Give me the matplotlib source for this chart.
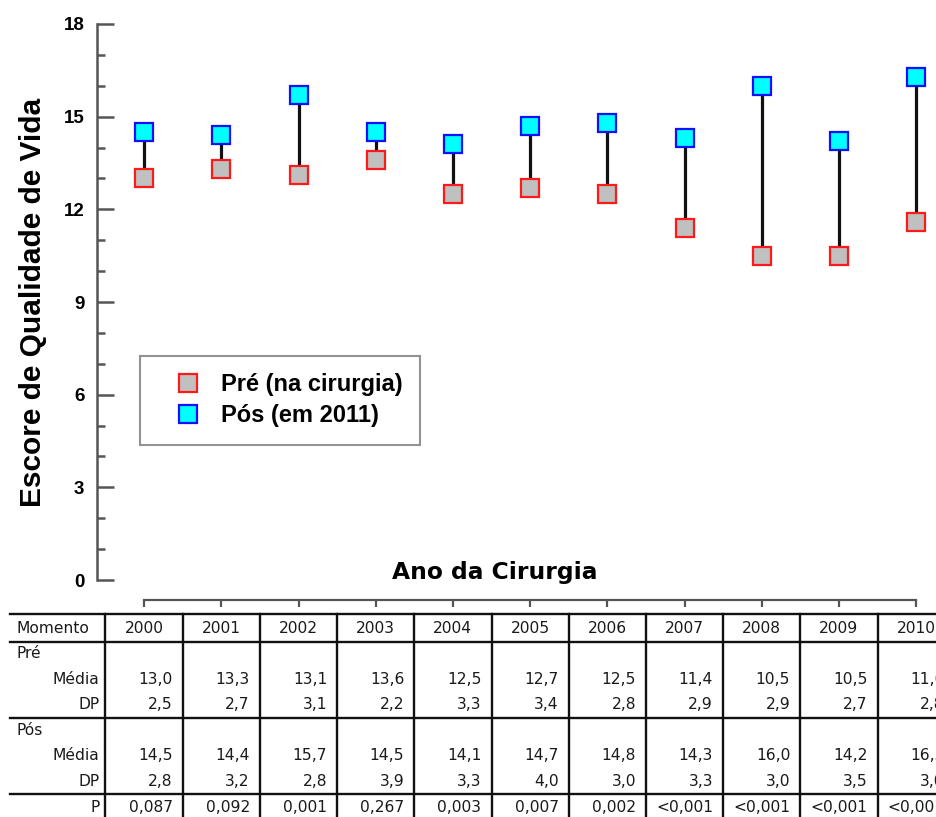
import numpy as np
import matplotlib
matplotlib.use('Agg')
import matplotlib.pyplot as plt

# Escore de qualidade de vida por ano da cirurgia
anos = [2000, 2001, 2002, 2003, 2004, 2005, 2006, 2007, 2008, 2009, 2010]
pre_media = [13.0, 13.3, 13.1, 13.6, 12.5, 12.7, 12.5, 11.4, 10.5, 10.5, 11.6]
pre_dp = [2.5, 2.7, 3.1, 2.2, 3.3, 3.4, 2.8, 2.9, 2.9, 2.7, 2.8]
pos_media = [14.5, 14.4, 15.7, 14.5, 14.1, 14.7, 14.8, 14.3, 16.0, 14.2, 16.3]
pos_dp = [2.8, 3.2, 2.8, 3.9, 3.3, 4.0, 3.0, 3.3, 3.0, 3.5, 3.0]
valor_p = ['0,087', '0,092', '0,001', '0,267', '0,003', '0,007', '0,002',
           '<0,001', '<0,001', '<0,001', '<0,001']

W, H = 937, 817
fig = plt.figure(figsize=(W / 100, H / 100), dpi=100)

def fx(px):
    return px / W

def fy(px):
    return 1 - px / H

# --- grafico principal ---
ax = fig.add_axes([fx(97), fy(600), 1 - fx(97), fy(24) - fy(600)])
ax.set_xlim(1999.39, 2010.27)
ax.set_ylim(-0.647, 18)

cinza = '#555555'
ax.vlines(anos, pre_media, pos_media, color='#111111', lw=2.3, zorder=2)
ax.plot(anos, pre_media, 's', ms=12.5, mfc='#c0c0c0', mec='#ff1a1a', mew=1.6,
        ls='none', zorder=3, label='Pré (na cirurgia)')
ax.plot(anos, pos_media, 's', ms=12.5, mfc='#00ffff', mec='#1010ff', mew=1.6,
        ls='none', zorder=3, label='Pós (em 2011)')

for s in ['top', 'right']:
    ax.spines[s].set_visible(False)
ax.spines['left'].set_bounds(0, 18)
ax.spines['left'].set_color(cinza)
ax.spines['left'].set_linewidth(1.8)
ax.spines['bottom'].set_bounds(2000, 2010)
ax.spines['bottom'].set_color(cinza)
ax.spines['bottom'].set_linewidth(1.6)

ax.set_yticks(np.arange(0, 19, 3))
ax.set_yticks(np.arange(0, 19, 1), minor=True)
ax.tick_params(axis='y', which='major', direction='in', length=12, width=1.8,
               color=cinza, pad=9, labelsize=13.5)
ax.tick_params(axis='y', which='minor', direction='in', length=6, width=1.8,
               color=cinza)
for lb in ax.get_yticklabels():
    lb.set_fontfamily('Liberation Sans')
    lb.set_fontweight('bold')

ax.set_xticks(anos)
ax.tick_params(axis='x', direction='out', length=5, width=1.6, color=cinza,
               labelbottom=False)

ax.set_ylabel('Escore de Qualidade de Vida', fontsize=21.5, fontweight='bold',
              family='Liberation Sans')
ax.yaxis.set_label_coords(-0.060, 0.517)

fig.text(fx(495), fy(572), 'Ano da Cirurgia', ha='center', va='center',
         fontsize=16.8, fontweight='bold', family='DejaVu Sans')

leg = ax.legend(loc='upper left', bbox_to_anchor=(0.0512, 0.4236),
                borderaxespad=0, fancybox=False, edgecolor='#777777',
                handlelength=2.55, handletextpad=0.15, borderpad=0.74,
                labelspacing=0.32,
                prop={'family': 'Liberation Sans', 'weight': 'bold', 'size': 17})
leg.get_frame().set_linewidth(1.5)

# --- tabela ---
tab = fig.add_axes([fx(97), 0, 1 - fx(97), fy(600)], sharex=ax)
tab.set_ylim(7.383, -1.094)
tab.axis('off')

cor_txt = '#1a1a1a'
fs = 11.2
x_rot = 1999.5 - 0.08
x_esq = 1998.35
tab.text(x_esq, 0, 'Momento', ha='left', va='center', fontsize=fs, color=cor_txt)
for a in anos:
    tab.text(a, 0, str(a), ha='center', va='center', fontsize=fs, color=cor_txt)

rot = [(1, 'Pré', 'left'), (2, 'Média', 'right'), (3, 'DP', 'right'),
       (4, 'Pós', 'left'), (5, 'Média', 'right'), (6, 'DP', 'right'),
       (7, 'P', 'right')]
for r, t, al in rot:
    tab.text(x_esq if al == 'left' else x_rot, r, t, ha=al, va='center',
             fontsize=fs, color=cor_txt)

def fmt(v):
    return f'{v:.1f}'.replace('.', ',')

linhas = [(2, pre_media), (3, pre_dp), (5, pos_media), (6, pos_dp)]
for r, vals in linhas:
    for a, v in zip(anos, vals):
        tab.text(a + 0.37, r, fmt(v), ha='right', va='center', fontsize=fs,
                 color=cor_txt, clip_on=False)
for a, p in zip(anos, valor_p):
    tab.text(a + 0.37, 7, p, ha='right', va='center', fontsize=fs,
             color=cor_txt, clip_on=False)

x_ini = 1998.26
x_fim = 2011
for yl in [-0.55, 0.55, 3.52, 6.48]:
    tab.plot([x_ini, x_fim], [yl, yl], color='#111111', lw=1.7, clip_on=False)
for xv in np.arange(1999.5, 2011, 1.0):
    tab.plot([xv, xv], [-0.55, 7.383], color='#111111', lw=1.7, clip_on=False)

fig.savefig('out.png', dpi=100)
